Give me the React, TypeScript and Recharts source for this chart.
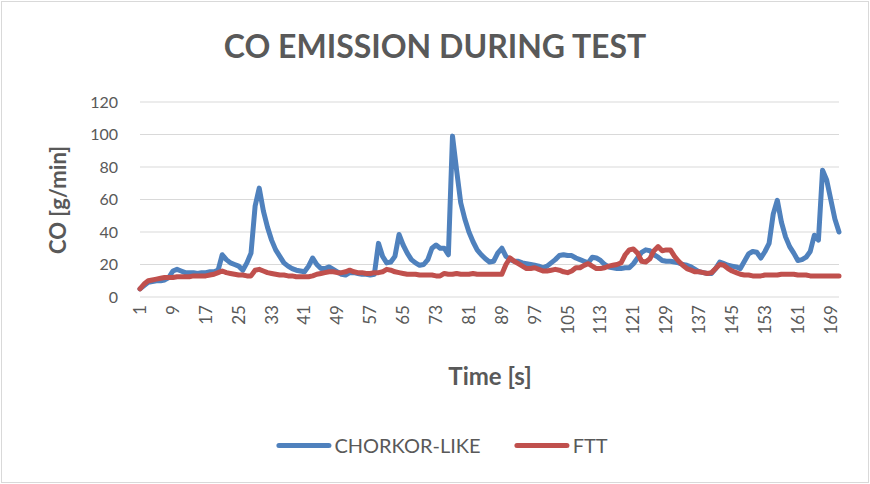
import React from 'react';
import { LineChart, Line, XAxis, YAxis, CartesianGrid } from 'recharts';

const FONT = 'Lato, "Open Sans", sans-serif';
const GREY = '#595959';
const BLUE = '#4f81bd';
const RED = '#c0504d';

const seriesNames = ['CHORKOR-LIKE', 'FTT'];
const yTicks = [0, 20, 40, 60, 80, 100, 120];

const chorkorLike = [
  5, 7, 9, 9.5, 10, 10, 10.5, 12, 16, 17,
  16, 15, 15, 15, 14.5, 15, 15, 15.5, 15.5, 16.5,
  26, 23, 21, 20, 19, 16.5, 21, 27, 56, 67,
  53, 43, 35, 29, 25, 21, 19, 17.5, 16.5, 16,
  15.5, 19, 24, 20, 17.5, 17.5, 18.5, 17, 15.5, 14,
  13.5, 15, 15, 14.5, 14, 14, 13.5, 14, 33, 25,
  21, 21.5, 25, 38.5, 32, 27, 23, 21, 19.5, 20,
  23, 30, 32, 30, 30, 26, 99, 78, 58, 48,
  40, 34, 29, 26, 23.5, 21.5, 22, 27, 30, 25,
  23, 22, 22, 21, 20.5, 20, 19.5, 19, 18, 19,
  21, 23, 25.5, 26, 25.5, 25.5, 24, 23, 22, 21,
  24.5, 24, 22.5, 20, 18.5, 18, 17.5, 17.5, 18, 18,
  20.5, 24, 27.5, 29, 28.5, 26, 24.5, 22.5, 22, 22,
  21.5, 21, 20, 19.5, 18.5, 17, 15.5, 15, 14.5, 14.5,
  17.5, 21.5, 20.5, 19.5, 19, 18.5, 17.5, 22, 26.5, 28,
  27.5, 24, 28, 33, 51, 59.5, 46, 37, 31, 27,
  22.5, 23, 24.5, 28, 38, 35, 78, 72, 60, 48,
  40,
];

const ftt = [
  5, 8, 10, 10.5, 11, 11.5, 12, 12, 12, 12.5,
  12.5, 12.5, 12.5, 13, 13, 13, 13, 13.5, 14, 15,
  16, 15, 14.5, 14, 13.5, 13.5, 13, 13, 16.5, 17,
  16, 15, 14.5, 14, 13.5, 13.5, 13, 13, 12.5, 12.5,
  12.5, 12.5, 13, 14, 14.5, 15, 15.5, 15.5, 15, 15,
  15.5, 16.5, 15.5, 15, 15, 14.5, 14.5, 15, 15, 15.5,
  17, 16.5, 15.5, 15, 14.5, 14, 14, 14, 13.5, 13.5,
  13.5, 13.5, 13, 13, 14.5, 14, 14, 14.5, 14, 14,
  14, 14.5, 14, 14, 14, 14, 14, 14, 14, 20,
  24, 22, 20.5, 19, 17.5, 17.5, 18, 17, 16, 16,
  16.5, 17, 16.5, 15.5, 15, 16, 18, 18, 19.5, 20.5,
  19, 17.5, 17.5, 18, 19, 19.5, 20, 21, 26, 29,
  29.5, 27, 22, 21.5, 23.5, 28.5, 31, 28.5, 29, 29,
  25, 22, 19.5, 17.5, 16.5, 15.5, 15.5, 15, 14.5, 15,
  17.5, 20, 19.5, 17.5, 16, 15, 14, 13.5, 13.5, 13,
  13, 13, 13.5, 13.5, 13.5, 13.5, 14, 14, 14, 14,
  13.5, 13.5, 13.5, 13, 13, 13, 13, 13, 13, 13,
  13,
];

const times = chorkorLike.map((_, i) => i + 1);

const data = times.map((t, i) => ({
  time: t,
  chorkor: chorkorLike[i],
  ftt: ftt[i],
}));

const XTick = (props: any) => {
  const { x, y, payload } = props;
  return (
    <text
      x={x}
      y={y}
      transform={`rotate(-90 ${x} ${y})`}
      textAnchor="end"
      dy="0.35em"
      fill={GREY}
      fontSize={17}
      fontFamily={FONT}
    >
      {payload.value}
    </text>
  );
};

export default function App() {
  return (
    <div
      style={{
        position: 'absolute',
        left: 0,
        top: 0,
        width: 870,
        height: 484,
        background: '#fff',
        fontFamily: FONT,
        overflow: 'hidden',
      }}
    >
      <div
        style={{
          position: 'absolute',
          left: 1,
          top: 1,
          width: 866,
          height: 480,
          border: '1px solid #d9d9d9',
        }}
      />
      <div style={{ position: 'absolute', left: 0, top: 0 }}>
        <LineChart
          width={870}
          height={484}
          data={data}
          margin={{ top: 102, right: 31, bottom: 127, left: 0 }}
        >
          <CartesianGrid vertical={false} stroke="#d9d9d9" strokeWidth={1.2} />
          <XAxis
            dataKey="time"
            interval={7}
            tick={<XTick />}
            tickSize={0}
            tickMargin={8}
            axisLine={false}
            tickLine={false}
            height={60}
          />
          <YAxis
            domain={[0, 120]}
            ticks={yTicks}
            width={140}
            axisLine={false}
            tickLine={false}
            tickSize={0}
            tickMargin={22}
            tick={{ fill: GREY, fontSize: 16, fontFamily: FONT }}
          />
          <Line
            type="linear"
            dataKey="chorkor"
            name={seriesNames[0]}
            stroke={BLUE}
            strokeWidth={5}
            dot={false}
            strokeLinejoin="round"
            strokeLinecap="round"
            isAnimationActive={false}
          />
          <Line
            type="linear"
            dataKey="ftt"
            name={seriesNames[1]}
            stroke={RED}
            strokeWidth={5}
            dot={false}
            strokeLinejoin="round"
            strokeLinecap="round"
            isAnimationActive={false}
          />
        </LineChart>
      </div>
      <div
        style={{
          position: 'absolute',
          left: 0,
          width: 870,
          top: 26,
          textAlign: 'center',
          fontSize: 32,
          fontWeight: 700,
          color: GREY,
          lineHeight: '40px',
        }}
      >
        CO EMISSION DURING TEST
      </div>
      <div
        style={{
          position: 'absolute',
          left: 57,
          top: 200,
          transform: 'translate(-50%, -50%) rotate(-90deg)',
          fontSize: 22,
          fontWeight: 700,
          color: GREY,
          whiteSpace: 'nowrap',
        }}
      >
        CO [g/min]
      </div>
      <div
        style={{
          position: 'absolute',
          left: 490,
          top: 375,
          transform: 'translate(-50%, -50%)',
          fontSize: 24,
          fontWeight: 700,
          color: GREY,
          whiteSpace: 'nowrap',
        }}
      >
        Time [s]
      </div>
      <div
        style={{
          position: 'absolute',
          left: 442,
          top: 445,
          transform: 'translate(-50%, -50%)',
          display: 'flex',
          alignItems: 'center',
          whiteSpace: 'nowrap',
          fontSize: 20,
          color: GREY,
        }}
      >
        <span style={{ display: 'inline-block', width: 55, height: 5, borderRadius: 3, background: BLUE, marginRight: 3 }} />
        <span style={{ marginRight: 34 }}>{seriesNames[0]}</span>
        <span style={{ display: 'inline-block', width: 55, height: 5, borderRadius: 3, background: RED, marginRight: 3 }} />
        <span>{seriesNames[1]}</span>
      </div>
    </div>
  );
}
